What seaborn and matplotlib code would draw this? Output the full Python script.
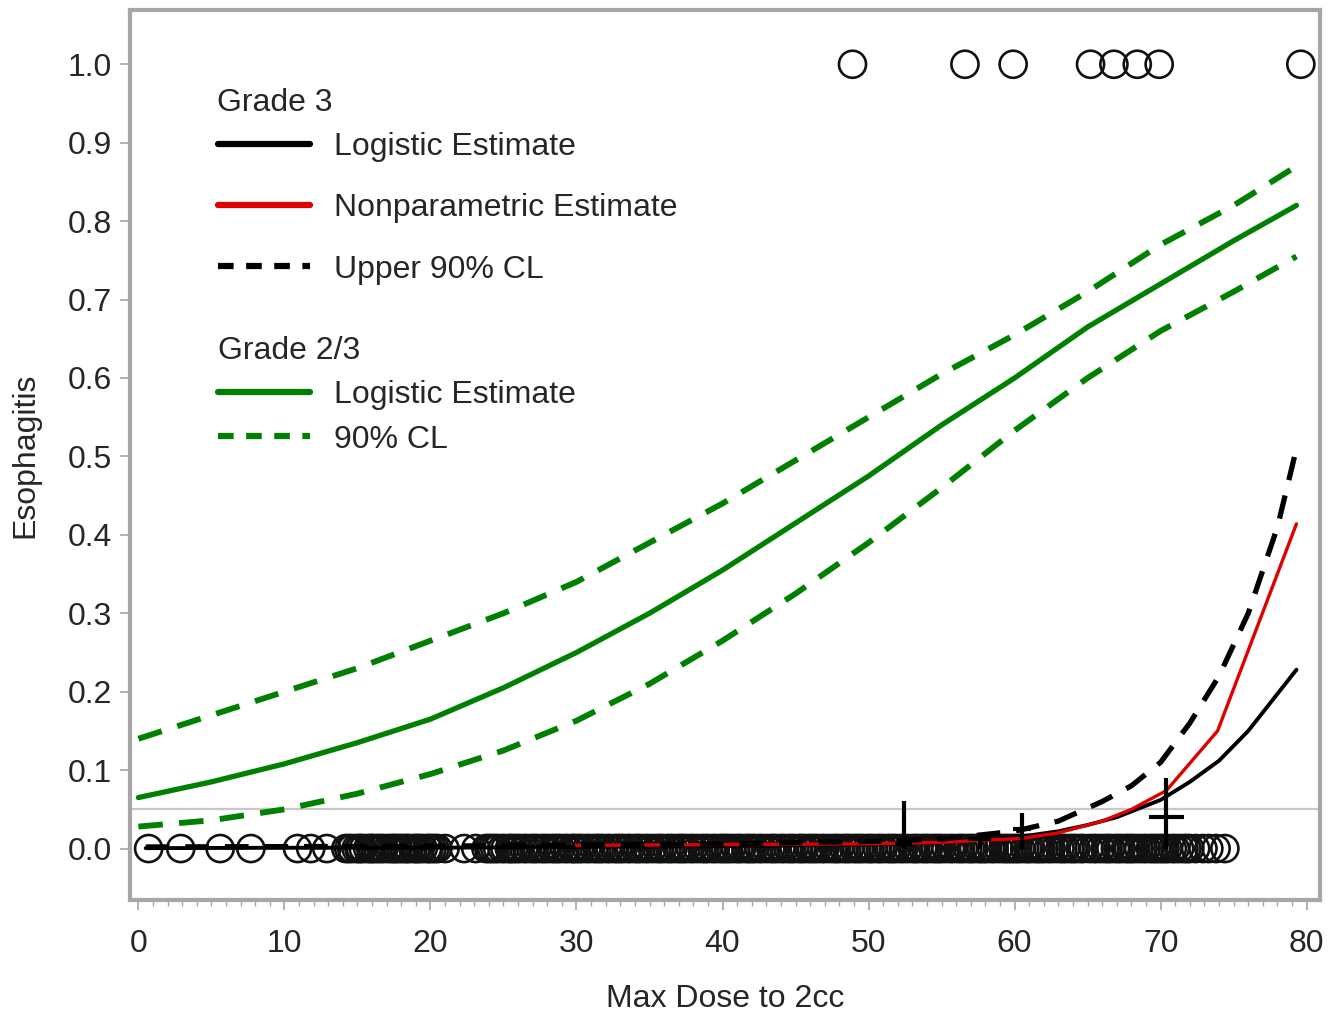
import numpy as np
import pandas as pd
import matplotlib
matplotlib.use('Agg')
import matplotlib.pyplot as plt
from matplotlib.lines import Line2D
from matplotlib.ticker import MultipleLocator
import seaborn as sns

# curve values
dose = [0, 5, 10, 15, 20, 25, 30, 35, 40, 45, 50, 55, 60, 65, 70, 75, 79.3]
g23_est = [0.065, 0.085, 0.108, 0.135, 0.165, 0.205, 0.25, 0.30, 0.355, 0.415,
           0.475, 0.54, 0.60, 0.665, 0.72, 0.775, 0.82]
g23_upper = [0.14, 0.17, 0.20, 0.23, 0.265, 0.30, 0.34, 0.39, 0.44, 0.495,
             0.55, 0.605, 0.655, 0.71, 0.77, 0.82, 0.87]
g23_lower = [0.028, 0.036, 0.05, 0.07, 0.095, 0.125, 0.163, 0.21, 0.265, 0.325,
             0.39, 0.46, 0.533, 0.60, 0.66, 0.71, 0.755]

g3_dose = [0.5, 10, 20, 30, 40, 50, 55, 60, 63, 65, 67, 70, 72, 74, 76, 79.3]
g3_est = [0.0005, 0.001, 0.001, 0.002, 0.003, 0.005, 0.008, 0.014, 0.022, 0.03,
          0.04, 0.062, 0.085, 0.112, 0.15, 0.228]
g3_upper_dose = [0.5, 20, 40, 50, 55, 58, 60, 63, 66, 68, 70, 72, 74, 76, 78, 79.3]
g3_upper = [0.002, 0.003, 0.006, 0.009, 0.012, 0.018, 0.022, 0.035, 0.06, 0.08,
            0.11, 0.16, 0.22, 0.30, 0.41, 0.51]
np_dose = [30, 40, 50, 55, 60.5, 63, 66, 68, 70.4, 73.9, 79.3]
np_est = [0.004, 0.005, 0.006, 0.008, 0.013, 0.02, 0.035, 0.05, 0.074, 0.15, 0.414]

# grouped nonparametric points with intervals
bin_x = [52.4, 57.6, 60.5, 70.4]
bin_y = [0.006, 0.012, 0.025, 0.04]
bin_lo = [0.0, 0.0, 0.0, 0.0]
bin_hi = [0.06, 0.015, 0.045, 0.09]
bin_halfw = [0.6, 0.8, 0.6, 1.2]

# observed outcomes
event_x = [48.9, 56.6, 59.9, 65.2, 66.8, 68.4, 69.9, 79.6]
no_event_x = [0.7, 2.9, 5.6, 7.7,
              10.9, 11.8, 12.9, 14.2, 14.4, 14.6, 14.9, 15.1, 15.2, 15.4, 15.7, 15.9,
              16.0, 16.2, 16.4, 16.6, 16.8, 17.1, 17.3, 17.5, 17.6, 17.8, 18.0, 18.2,
              18.4, 18.5, 18.8, 19.0, 19.1, 19.3, 19.5, 19.8, 19.9, 20.1, 20.3,
              20.5, 21.0, 22.3, 23.1, 23.8, 24.0, 24.2, 24.4, 24.6, 24.9, 25.1, 25.4,
              25.5, 25.7, 25.9, 26.1, 26.4, 26.6, 26.9, 27.1, 27.3, 27.6, 27.8, 28.0,
              28.3, 28.5, 28.7, 28.9, 29.2, 29.4, 29.7, 29.8,
              30.0, 30.2, 30.4, 30.7, 30.9, 31.2, 31.4, 31.6, 31.8, 32.1, 32.3, 32.6,
              32.8, 33.0, 33.2, 33.5, 33.7, 34.0, 34.2, 34.4, 34.7, 34.9, 35.2, 35.5,
              35.7, 35.9, 36.2, 36.4, 36.6, 36.9, 37.1, 37.3, 37.5, 37.8, 38.0, 38.3,
              38.6, 38.8, 39.0, 39.3, 39.5, 39.8,
              40.0, 40.2, 40.4, 40.6, 40.9, 41.1, 41.3, 41.6, 41.8, 42.0, 42.2, 42.5,
              42.7, 43.0, 43.3, 43.5, 43.7, 44.0, 44.2, 44.5, 44.7, 44.9, 45.2, 45.4,
              45.6, 45.9, 46.1, 46.3, 46.5, 46.8, 47.0, 47.3, 47.6, 47.8, 48.0, 48.3,
              48.5, 48.7, 49.0, 49.2, 49.4, 49.6, 49.9,
              50.1, 50.3, 50.6, 50.8, 51.0, 51.3, 51.5, 51.7, 51.9, 52.2, 52.4, 52.7,
              53.0, 53.2, 53.4, 53.7, 53.9, 54.1, 54.4, 54.6, 54.8, 55.0, 55.3, 55.6,
              55.8, 56.1, 56.3, 56.5, 56.8, 57.0, 57.2, 57.5, 57.7, 57.9, 58.1, 58.4,
              58.6, 58.9, 59.2, 59.4, 59.6, 59.8,
              60.0, 60.2, 60.4, 60.7, 60.9, 61.1, 61.4, 61.6, 61.8, 62.0, 62.3, 62.5,
              62.8, 63.1, 63.3, 63.5, 63.8, 64.0, 64.2, 64.5, 64.7, 65.1, 65.4, 65.6,
              65.9, 66.2, 66.4, 66.6, 66.9, 67.1, 67.3, 67.6, 67.8, 68.0, 68.2, 68.5,
              68.8, 69.0, 69.3, 69.5, 69.7, 69.9,
              70.1, 70.3, 70.5, 70.8, 71.0, 71.3, 71.6, 71.8, 72.0, 72.4, 72.9, 73.3,
              73.8, 74.4]

sns.set_style('white')
plt.rcParams['font.family'] = ['Liberation Sans', 'DejaVu Sans']

green = '#008000'
frame_col = '#a6a6a6'
text_col = '#262626'
fs = 23

fig = plt.figure(figsize=(13.44, 10.15), dpi=100)
ax = fig.add_axes([0.097, 0.113, 0.885, 0.877])

ax.axhline(0.05, color='#c8c8c8', lw=1.6, zorder=1)

pts = pd.DataFrame({'x': event_x + no_event_x,
                    'y': [1.0] * len(event_x) + [0.0] * len(no_event_x)})
sns.scatterplot(data=pts, x='x', y='y', ax=ax, marker='o', s=380,
                facecolors='none', edgecolor='#111111', linewidth=1.9, zorder=2)

sns.lineplot(x=g3_dose, y=g3_est, ax=ax, color='black', lw=2.8, zorder=3)
sns.lineplot(x=np_dose, y=np_est, ax=ax, color='#e00000', lw=2.4, zorder=3)
sns.lineplot(x=g3_upper_dose, y=g3_upper, ax=ax, color='black', lw=3.8,
             dashes=(4.5, 3), zorder=3)
sns.lineplot(x=dose, y=g23_est, ax=ax, color=green, lw=3.8, zorder=3)
sns.lineplot(x=dose, y=g23_upper, ax=ax, color=green, lw=4.2, dashes=(4.2, 2.8), zorder=3)
sns.lineplot(x=dose, y=g23_lower, ax=ax, color=green, lw=4.2, dashes=(4.2, 2.8), zorder=3)

bins = pd.DataFrame({'x': bin_x, 'y': bin_y, 'lo': bin_lo, 'hi': bin_hi, 'hw': bin_halfw})
ax.vlines(bins['x'], bins['lo'], bins['hi'], color='black', lw=3, zorder=4)
ax.hlines(bins['y'], bins['x'] - bins['hw'], bins['x'] + bins['hw'],
          color='black', lw=3, zorder=4)

ax.set_xlim(-0.55, 80.9)
ax.set_ylim(-0.066, 1.069)
ax.set_xticks(np.arange(0, 81, 10))
ax.set_yticks(np.arange(0, 1.01, 0.1))
ax.set_yticklabels([f'{v:.1f}' for v in np.arange(0, 1.01, 0.1)])
ax.xaxis.set_minor_locator(MultipleLocator(1))
ax.tick_params(axis='both', which='major', direction='out', length=7, width=1.2,
               color=frame_col, labelsize=fs, labelcolor=text_col)
ax.tick_params(axis='x', which='major', pad=14)
ax.tick_params(axis='y', which='major', pad=6)
ax.tick_params(axis='x', which='minor', direction='out', length=4, width=1,
               color=frame_col, bottom=True)
ax.tick_params(axis='x', which='both', bottom=True)
ax.tick_params(axis='y', which='major', left=True)

for sp in ax.spines.values():
    sp.set_color(frame_col)
    sp.set_linewidth(3)

ax.set_xlabel('Max Dose to 2cc', fontsize=fs, color=text_col, labelpad=18)
ax.set_ylabel('Esophagitis', fontsize=fs, color=text_col, labelpad=20)

ax.text(0.073, 0.913, 'Grade 3', transform=ax.transAxes, fontsize=fs,
        color=text_col, ha='left', va='top')
h1 = [Line2D([], [], color='black', lw=4.5),
      Line2D([], [], color='#e00000', lw=4.5),
      Line2D([], [], color='black', lw=4.5, dashes=(2.5, 2))]
leg1 = ax.legend(h1, ['Logistic Estimate', 'Nonparametric Estimate', 'Upper 90% CL'],
                 loc='upper left', bbox_to_anchor=(0.06, 0.881),
                 frameon=False, fontsize=fs, alignment='left',
                 handlelength=2.9, handletextpad=0.75, labelspacing=0.98, borderpad=0,
                 labelcolor=text_col)
ax.add_artist(leg1)

h2 = [Line2D([], [], color=green, lw=4.5),
      Line2D([], [], color=green, lw=4.5, dashes=(2.5, 2))]
leg2 = ax.legend(h2, ['Logistic Estimate', '90% CL'],
                 title='Grade 2/3', loc='upper left', bbox_to_anchor=(0.06, 0.652),
                 frameon=False, fontsize=fs, title_fontsize=fs, alignment='left',
                 handlelength=2.9, handletextpad=0.75, labelspacing=0.45, borderpad=0,
                 labelcolor=text_col)
leg2.get_title().set_color(text_col)

fig.savefig('out.png', dpi=100)
